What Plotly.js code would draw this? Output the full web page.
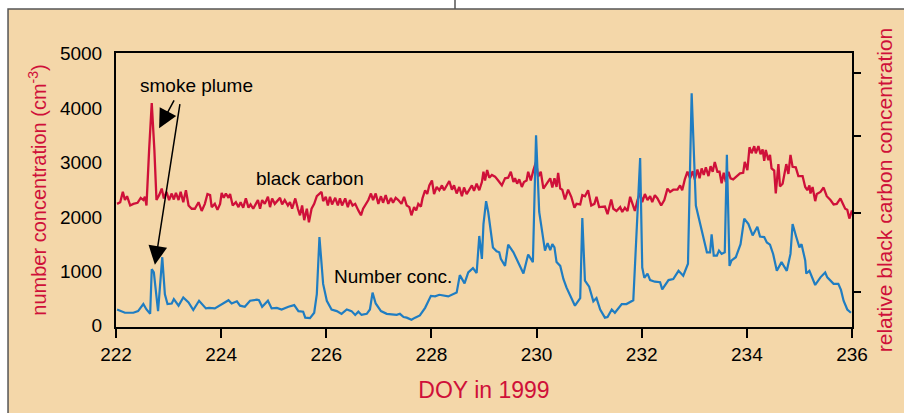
<!DOCTYPE html>
<html>
<head>
<meta charset="utf-8">
<script src="https://cdn.plot.ly/plotly-3.0.1.min.js"></script>
<style>html,body{margin:0;padding:0;background:#fff;}#chart{width:904px;height:413px;}</style>
</head>
<body>
<div id="chart"></div>
<script>
// Number concentration (cm-3) vs day of year
const ncDay = [
222.02,222.17,222.33,222.42,222.52,222.58,222.65,222.68,222.72,222.80,
222.88,222.93,222.98,223.06,223.10,223.19,223.28,223.38,223.47,223.58,
223.71,223.77,223.88,224.01,224.14,224.20,224.30,224.36,224.45,224.55,
224.68,224.72,224.78,224.89,224.96,225.06,225.15,225.28,225.39,225.47,
225.56,225.60,225.69,225.77,225.82,225.87,225.94,226.01,226.10,226.20,
226.29,226.39,226.48,226.55,226.61,226.67,226.77,226.83,226.88,226.94,
227.04,227.15,227.24,227.34,227.40,227.47,227.53,227.62,227.69,227.78,
227.88,227.99,228.07,228.15,228.32,228.42,228.48,228.54,228.63,228.70,
228.79,228.86,228.91,228.96,228.99,229.04,229.08,229.17,229.24,229.29,
229.32,229.40,229.46,229.56,229.65,229.75,229.84,229.93,229.99,230.05,
230.16,230.21,230.26,230.30,230.34,230.38,230.45,230.51,230.57,230.64,
230.73,230.83,230.87,230.92,231.00,231.08,231.14,231.21,231.30,231.35,
231.43,231.49,231.62,231.71,231.84,231.97,232.01,232.05,232.11,232.16,
232.25,232.35,232.39,232.51,232.60,232.70,232.79,232.88,232.95,233.03,
233.11,233.24,233.30,233.33,233.37,233.43,233.47,233.52,233.58,233.62,
233.67,233.71,233.79,233.88,233.95,234.03,234.11,234.20,234.25,234.33,
234.38,234.44,234.50,234.57,234.66,234.76,234.83,234.87,234.94,235.00,
235.04,235.11,235.13,235.19,235.30,235.40,235.49,235.53,235.65,235.74,
235.79,235.84,235.91,235.98];
const ncVal = [
300,240,240,270,400,300,220,1040,980,270,
1260,580,400,410,490,370,520,430,290,460,
320,330,320,400,470,410,450,370,350,460,
480,470,350,460,320,330,300,350,380,270,
260,150,140,240,580,1630,770,460,300,270,
220,300,270,200,260,200,220,300,610,410,
270,220,210,200,220,160,150,110,150,190,
330,550,540,570,540,590,610,930,780,980,
1060,970,1650,1230,1870,2290,2090,1440,1370,1350,
1230,1100,1490,1350,1170,960,1310,1170,3500,2090,
1380,1520,1390,1500,1440,1170,1100,860,700,550,
370,510,1980,830,720,450,510,300,150,160,
300,240,400,400,470,3080,1070,880,960,840,
810,800,670,840,860,1010,920,1140,4270,2210,
1870,1350,1350,1680,1290,1290,1380,1320,1350,3140,
1100,1200,1260,1500,1970,1870,1660,1820,1640,1630,
1530,1490,1320,1010,1170,1010,1320,1870,1630,1440,
1500,1200,960,1010,750,890,980,890,770,770,
660,460,300,240];

// Relative black carbon concentration (arbitrary units) vs day of year
const bcDay = [
222.02,222.08,222.13,222.17,222.21,222.27,222.33,222.41,222.47,222.52,
222.55,222.58,222.63,222.68,222.73,222.77,222.82,222.87,222.91,222.96,
223.01,223.06,223.10,223.14,223.19,223.23,223.28,223.33,223.38,223.44,
223.50,223.57,223.63,223.69,223.74,223.79,223.82,223.88,223.93,223.98,
224.01,224.05,224.09,224.14,224.17,224.22,224.28,224.33,224.37,224.42,
224.47,224.52,224.56,224.61,224.66,224.70,224.74,224.78,224.83,224.89,
224.93,224.97,225.02,225.08,225.12,225.16,225.21,225.27,225.31,225.35,
225.41,225.46,225.50,225.54,225.58,225.63,225.67,225.72,225.77,225.82,
225.86,225.91,225.94,225.99,226.03,226.07,226.11,226.17,226.22,226.26,
226.30,226.36,226.41,226.45,226.50,226.55,226.61,226.66,226.70,226.75,
226.80,226.85,226.89,226.94,226.99,227.04,227.08,227.13,227.18,227.23,
227.27,227.32,227.37,227.43,227.48,227.53,227.58,227.62,227.67,227.71,
227.75,227.80,227.83,227.88,227.92,227.96,228.01,228.05,228.10,228.15,
228.20,228.24,228.29,228.34,228.39,228.43,228.48,228.53,228.58,228.62,
228.67,228.72,228.77,228.81,228.86,228.91,228.96,228.99,229.02,229.06,
229.10,229.15,229.21,229.27,229.34,229.40,229.46,229.51,229.56,229.59,
229.63,229.67,229.72,229.76,229.81,229.84,229.89,229.94,229.99,230.03,
230.08,230.13,230.19,230.21,230.26,230.30,230.34,230.38,230.41,230.45,
230.49,230.54,230.60,230.66,230.72,230.76,230.83,230.87,230.92,230.98,
231.04,231.10,231.14,231.19,231.25,231.30,231.35,231.42,231.46,231.52,
231.59,231.63,231.68,231.73,231.78,231.82,231.87,231.92,231.97,232.01,
232.06,232.11,232.16,232.20,232.25,232.30,232.37,232.43,232.49,232.54,
232.60,232.68,232.73,232.77,232.82,232.87,232.92,232.97,233.01,233.06,
233.10,233.14,233.18,233.22,233.27,233.31,233.35,233.39,233.44,233.48,
233.52,233.56,233.60,233.65,233.69,233.74,233.81,233.87,233.93,233.96,
234.01,234.05,234.09,234.14,234.17,234.22,234.26,234.30,234.33,234.36,
234.41,234.44,234.47,234.52,234.55,234.60,234.63,234.68,234.75,234.79,
234.83,234.87,234.93,234.98,235.06,235.11,235.15,235.19,235.21,235.25,
235.30,235.33,235.40,235.46,235.52,235.59,235.65,235.71,235.78,235.82,
235.87,235.91,235.95,236.00];
const bcVal = [
2.24,2.27,2.46,2.31,2.38,2.21,2.24,2.26,2.35,2.31,
2.37,2.21,3.23,4.09,3.23,2.31,2.40,2.52,2.34,2.46,
2.31,2.43,2.32,2.44,2.31,2.46,2.27,2.49,2.21,2.15,
2.15,2.27,2.11,2.24,2.42,2.40,2.18,2.24,2.13,2.24,
2.44,2.35,2.43,2.35,2.42,2.21,2.27,2.18,2.27,2.17,
2.34,2.17,2.23,2.15,2.24,2.31,2.15,2.31,2.24,2.37,
2.18,2.34,2.24,2.31,2.35,2.23,2.31,2.21,2.27,2.15,
2.34,2.15,2.03,2.21,1.94,2.15,1.90,2.15,2.24,2.38,
2.42,2.46,2.29,2.37,2.21,2.37,2.23,2.35,2.21,2.34,
2.21,2.34,2.18,2.31,2.21,2.24,2.12,2.03,2.15,2.24,
2.31,2.43,2.31,2.43,2.24,2.38,2.26,2.40,2.24,2.35,
2.26,2.35,2.31,2.24,2.37,2.21,2.18,2.03,2.18,2.12,
2.24,2.19,2.34,2.49,2.42,2.58,2.67,2.42,2.55,2.49,
2.58,2.49,2.58,2.66,2.50,2.58,2.43,2.55,2.38,2.54,
2.42,2.50,2.58,2.48,2.61,2.49,2.64,2.83,2.67,2.86,
2.72,2.77,2.74,2.67,2.58,2.71,2.72,2.83,2.64,2.71,
2.61,2.69,2.55,2.64,2.67,2.83,2.67,2.86,3.01,2.74,
2.83,2.52,2.61,2.66,2.71,2.54,2.71,2.55,2.81,2.52,
2.50,2.32,2.50,2.37,2.17,2.24,2.23,2.40,2.38,2.49,
2.21,2.24,2.37,2.18,2.18,2.19,2.05,2.32,2.15,2.11,
2.18,2.09,2.17,2.11,2.37,2.26,2.11,2.31,2.44,2.27,
2.42,2.31,2.38,2.27,2.40,2.34,2.21,2.31,2.52,2.46,
2.50,2.50,2.58,2.49,2.69,2.83,2.71,2.84,2.69,2.87,
2.71,2.89,2.77,2.91,2.75,2.93,2.83,3.01,2.83,2.83,
2.62,2.81,2.64,2.83,2.71,2.69,2.75,2.80,2.81,3.01,
2.86,3.28,3.17,3.30,3.17,3.30,3.15,3.24,3.03,3.23,
3.04,3.14,2.89,2.85,2.43,2.97,2.56,2.61,2.97,2.79,
3.14,2.92,2.91,2.75,2.75,2.55,2.49,2.58,2.43,2.55,
2.29,2.42,2.46,2.54,2.38,2.31,2.23,2.24,2.34,2.26,
2.15,2.13,1.97,2.12];

const xTicks = [222,224,226,228,230,232,234,236];
const leftTicks = [0,1000,2000,3000,4000,5000];
const leftMarkedTicks = [1000,4000];
const rightTicks = [0.63,2.08,3.48,4.64];

const RED = '#cf1039';
const BLUE = '#1f7dc2';
const BEIGE = '#f4d7a9';
const FONT = 'Liberation Sans, Arial, Helvetica, sans-serif';

const leftRange = [-22, 5011];
const rightRange = [-0.022, 5.011];

const traces = [
  {x: bcDay, y: bcVal, xaxis: 'x', yaxis: 'y', type: 'scatter', mode: 'lines',
   line: {color: RED, width: 2.3}, hoverinfo: 'skip', showlegend: false},
  {x: ncDay, y: ncVal, xaxis: 'x', yaxis: 'y2', type: 'scatter', mode: 'lines',
   line: {color: BLUE, width: 2.2}, hoverinfo: 'skip', showlegend: false}
];

const layout = {
  width: 904, height: 413,
  margin: {l: 116, r: 52, t: 53, b: 86},
  paper_bgcolor: '#ffffff',
  plot_bgcolor: 'rgba(0,0,0,0)',
  font: {family: FONT, color: '#000', size: 19},
  showlegend: false,
  xaxis: {
    range: [222, 236], tickvals: xTicks, ticks: 'outside', ticklen: 9, tickwidth: 2,
    tickcolor: '#000', showline: true, linewidth: 2, linecolor: '#000', mirror: true,
    showgrid: false, zeroline: false, tickfont: {size: 19, family: FONT},
    title: {text: 'DOY in 1999', font: {size: 23, color: RED, family: FONT}, standoff: 18}
  },
  // right axis: relative black carbon (main axis)
  yaxis: {
    side: 'right', range: rightRange, tickvals: rightTicks, ticks: 'outside', ticklen: 7,
    tickwidth: 2, tickcolor: '#000', showticklabels: false, showline: true, linewidth: 2,
    linecolor: '#000', showgrid: false, zeroline: false,
    title: {text: 'relative black carbon concentration', font: {size: 21, color: RED, family: FONT}, standoff: 17}
  },
  // left axis: number concentration
  yaxis2: {
    side: 'left', overlaying: 'y', range: leftRange, tickvals: leftTicks, ticks: 'outside',
    ticklen: 8, tickcolor: 'rgba(0,0,0,0)', showline: true, linewidth: 2, linecolor: '#000',
    showgrid: false, zeroline: false, tickfont: {size: 19, family: FONT},
    title: {text: 'number concentration (cm<sup>-3</sup>)', font: {size: 20, color: RED, family: FONT}, standoff: 8}
  },
  yaxis3: {
    side: 'left', overlaying: 'y', range: leftRange, tickvals: leftMarkedTicks, ticks: 'outside',
    ticklen: 8, tickwidth: 2, tickcolor: '#000', showticklabels: false, showline: false,
    showgrid: false, zeroline: false
  },
  yaxis4: {
    side: 'right', overlaying: 'y', range: rightRange, tickvals: rightTicks, ticks: 'inside',
    ticklen: 7, tickwidth: 2, tickcolor: '#000', showticklabels: false, showline: false,
    showgrid: false, zeroline: false
  },
  shapes: [
    {type: 'rect', xref: 'paper', yref: 'paper', x0: -0.1467, x1: 1.2, y0: -0.35, y1: 1.1608,
     fillcolor: BEIGE, line: {color: '#555', width: 1.5}, layer: 'below'},
    {type: 'line', xref: 'paper', yref: 'paper', x0: 0.4606, x1: 0.4606, y0: 1.1608, y1: 1.25,
     line: {color: '#555', width: 1.5}, layer: 'below'}
  ],
  annotations: [
    {xref: 'x', yref: 'y2', x: 223.54, y: 4411, text: 'smoke plume', showarrow: false,
     font: {size: 19, family: FONT, color: '#000'}},
    {xref: 'x', yref: 'y2', x: 225.69, y: 2711, text: 'black carbon', showarrow: false,
     font: {size: 19, family: FONT, color: '#000'}},
    {xref: 'x', yref: 'y2', x: 227.27, y: 901, text: 'Number conc.', showarrow: false,
     font: {size: 19, family: FONT, color: '#000'}},
    {xref: 'x', yref: 'y2', axref: 'x', ayref: 'y2', x: 222.82, y: 3630, ax: 223.12, ay: 4170,
     text: '', showarrow: true, arrowhead: 2, arrowsize: 2.5, arrowwidth: 1.5, arrowcolor: '#000'},
    {xref: 'x', yref: 'y2', axref: 'x', ayref: 'y2', x: 222.74, y: 1120, ax: 223.22, ay: 4100,
     text: '', showarrow: true, arrowhead: 2, arrowsize: 2.5, arrowwidth: 1.5, arrowcolor: '#000'}
  ]
};

Plotly.newPlot('chart', traces, layout, {staticPlot: true, displayModeBar: false});
</script>
</body>
</html>
